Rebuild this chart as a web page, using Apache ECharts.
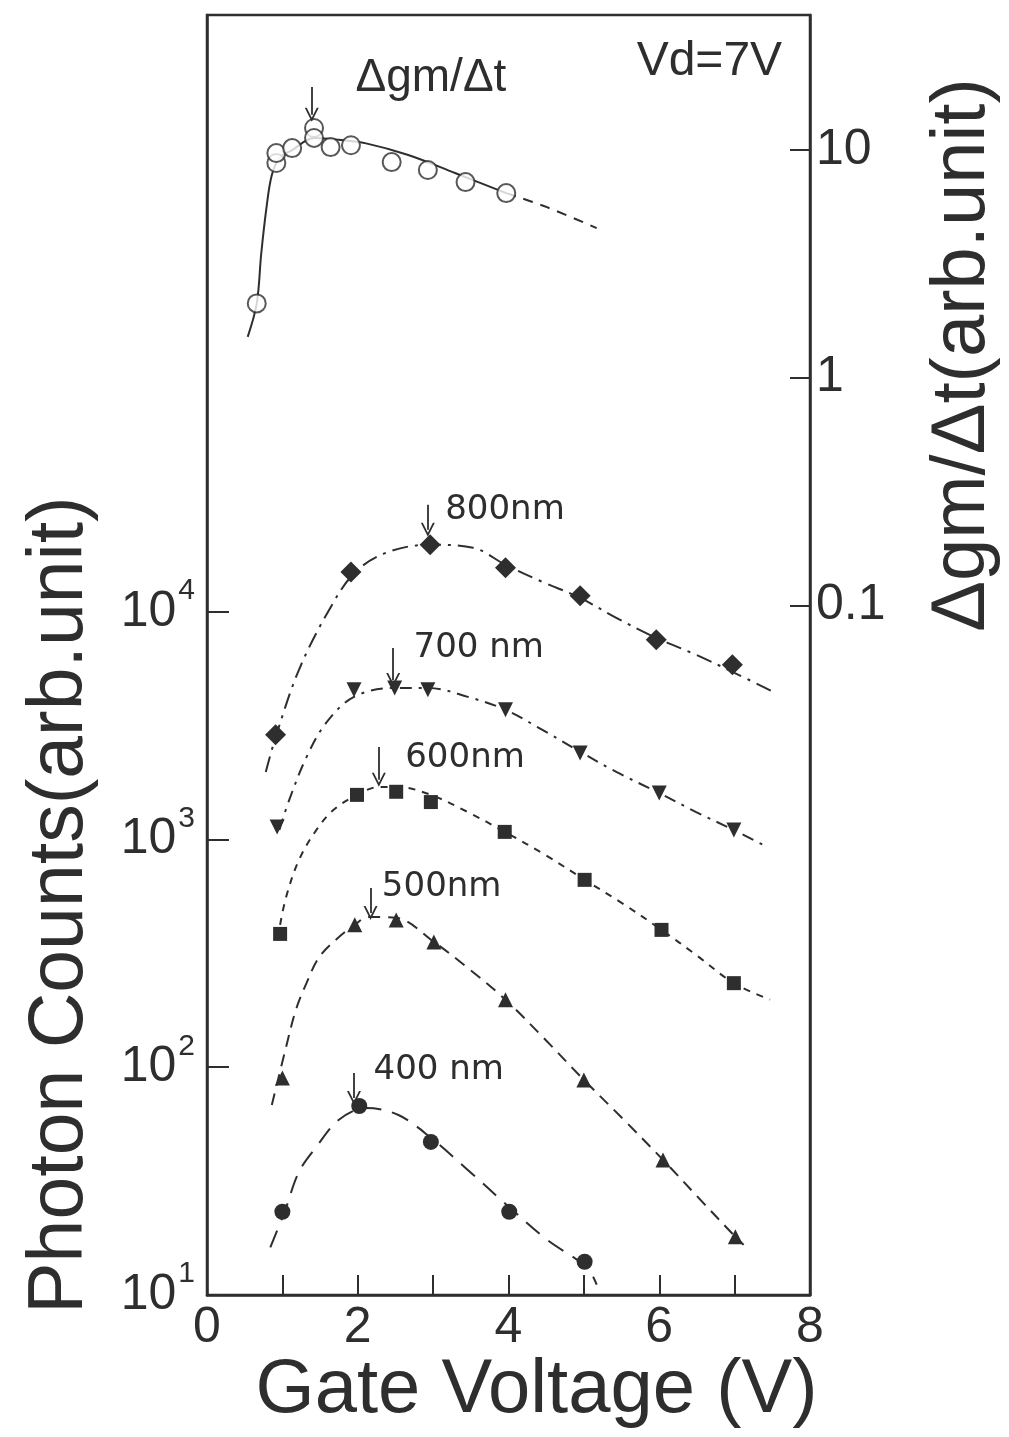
<!DOCTYPE html>
<html><head><meta charset="utf-8">
<script src="https://cdn.jsdelivr.net/npm/echarts@6/dist/echarts.min.js"></script>
<style>html,body{margin:0;padding:0;background:#fff}#c{width:1009px;height:1437px}</style>
</head><body><div id="c"></div>
<script>
// ---- axis ticks ----
const xTickLabels = [0, 2, 4, 6, 8];
const leftTickValues = [10, 100, 1000, 10000];
const rightTickValues = [0.1, 1, 10];

// ---- Δgm/Δt (right axis) ----
const gmX = [0.66, 0.92, 0.92, 1.13, 1.42, 1.42, 1.64, 1.91, 2.45, 2.93, 3.43, 3.97];
const gmY = [2.12, 8.77, 9.70, 10.2, 12.5, 11.3, 10.3, 10.5, 8.85, 8.17, 7.23, 6.47];
const gmFitX = [0.54, 0.66, 0.72, 0.79, 0.86, 0.96, 1.13, 1.42, 1.75, 2.11, 2.67, 3.29, 3.97];
const gmFitY = [1.51, 2.12, 3.52, 5.61, 7.76, 9.22, 10.0, 11.3, 11.1, 10.7, 9.51, 7.93, 6.47];
const gmExtX = [3.97, 4.51, 5.17];
const gmExtY = [6.47, 5.61, 4.54];

// ---- Photon counts (left axis) ----
const x800 = [0.91, 1.91, 2.96, 3.96, 4.95, 5.96, 6.97];
const y800 = [2880, 14960, 19680, 15600, 11750, 7540, 5850];
const fit800X = [0.78, 0.92, 1.22, 1.62, 1.97, 2.41, 2.96, 3.53, 3.96, 4.45, 4.95, 5.43, 5.96, 6.49, 6.97, 7.54];
const fit800Y = [1980, 2880, 5560, 10190, 14960, 18330, 19680, 19100, 16070, 13520, 11510, 9400, 7680, 6470, 5450, 4400];

const x700 = [0.93, 1.95, 2.49, 2.93, 3.96, 4.95, 6.0, 6.99];
const y700 = [1135, 4540, 4630, 4540, 3710, 2400, 1600, 1100];
const fit700X = [0.96, 1.09, 1.32, 1.58, 1.95, 2.49, 2.93, 3.46, 3.96, 4.45, 4.95, 5.43, 6.0, 6.49, 6.99, 7.38];
const fit700Y = [1100, 1490, 2300, 3250, 4230, 4630, 4630, 4230, 3710, 3030, 2430, 1980, 1600, 1320, 1100, 946];

const x600 = [0.97, 1.99, 2.51, 2.97, 3.95, 5.01, 6.03, 6.99];
const y600 = [385, 1570, 1620, 1460, 1080, 665, 401, 234];
const fit600X = [0.97, 1.05, 1.22, 1.45, 1.68, 1.99, 2.28, 2.54, 2.97, 3.46, 3.95, 4.49, 5.01, 5.5, 6.03, 6.49, 6.99, 7.47];
const fit600Y = [422, 560, 813, 1100, 1350, 1570, 1700, 1700, 1570, 1320, 1080, 855, 665, 527, 401, 311, 234, 198];

const x500 = [1.0, 1.96, 2.51, 3.01, 3.96, 5.0, 6.05, 7.01];
const y500 = [89.8, 422, 443, 355, 198, 88, 39.2, 18.0];
const fit500X = [0.86, 1.05, 1.18, 1.32, 1.49, 1.75, 1.96, 2.14, 2.51, 3.01, 3.46, 3.96, 4.49, 5.0, 5.53, 6.05, 6.55, 7.01, 7.12];
const fit500Y = [68.2, 123, 179, 234, 305, 373, 422, 457, 453, 355, 273, 198, 132, 88, 58.8, 39.2, 26.1, 18.0, 16.6];

const x400 = [1.0, 2.02, 2.97, 4.01, 5.01];
const y400 = [23.2, 67.6, 47.0, 23.2, 14.0];
const fit400X = [0.84, 1.03, 1.22, 1.45, 1.75, 2.11, 2.54, 2.97, 3.46, 4.01, 4.51, 5.04, 5.17];
const fit400Y = [16.2, 23.2, 34.7, 44.7, 58.8, 66.2, 61.7, 49.0, 35.4, 24.3, 17.5, 13.2, 11.1];

// ---- annotations (data coordinates) ----
const waveLabels = ['800nm', '700 nm', '600nm', '500nm', '400 nm'];
const waveLabelX = [3.16, 2.74, 2.63, 2.32, 2.21];
const waveLabelY = [28000, 6930, 2280, 619, 97.3];
const waveArrowX = [2.93, 2.47, 2.28, 2.17, 1.95];
const waveArrowTop = [29500, 6930, 2550, 612, 94.4];
const waveArrowTip = [22900, 5020, 1830, 476, 73.3];

const gmLabel = 'Δgm/Δt';
const gmLabelPos = [1.97, 20.7];
const vdLabel = 'Vd=7V';
const vdLabelPos = [5.70, 24.4];
const gmArrow = [1.39, 18.9, 14.3];

const INK = '#2e2e2e';
const FONT = '"Liberation Sans", Arial, sans-serif';
const zip = (a, b) => a.map((v, i) => [v, b[i]]);
const chevron = 'path://M5,0 L10,10 L8.6,10 L5,2.8 L1.4,10 L0,10 Z';

function textMark(text, pos, size, family) {
  return {
    coord: pos, symbol: 'circle', symbolSize: 0, itemStyle: { color: 'rgba(0,0,0,0)' },
    label: { show: true, formatter: text, position: 'inside', align: 'left', verticalAlign: 'middle',
      color: INK, fontSize: size, fontFamily: family }
  };
}
function arrowLine(x, top, tip) {
  return {
    silent: true, symbol: ['none', chevron], symbolSize: 14, animation: false,
    label: { show: false },
    lineStyle: { color: INK, width: 1.8, type: 'solid' },
    emphasis: { disabled: true },
    data: [[{ coord: [x, top] }, { coord: [x, tip] }]]
  };
}
function fitLine(xs, ys, dash, extra) {
  return Object.assign({
    type: 'line', data: zip(xs, ys), showSymbol: false, smooth: 0.35, yAxisIndex: 0,
    lineStyle: { color: INK, width: 2, type: dash }, z: 2, silent: true
  }, extra || {});
}
function points(xs, ys, symbol, size, extra) {
  return Object.assign({
    type: 'scatter', data: zip(xs, ys), symbol: symbol, symbolSize: size, yAxisIndex: 0,
    itemStyle: { color: INK, opacity: 1 }, z: 3, silent: true
  }, extra || {});
}

const series = [];
// Δgm/Δt
series.push(fitLine(gmFitX, gmFitY, 'solid', {
  yAxisIndex: 1,
  markPoint: { silent: true, data: [textMark(gmLabel, gmLabelPos, 46, FONT), textMark(vdLabel, vdLabelPos, 48, FONT)] },
  markLine: arrowLine(gmArrow[0], gmArrow[1], gmArrow[2])
}));
series.push(fitLine(gmExtX, gmExtY, [10, 8], { yAxisIndex: 1 }));
series.push(points(gmX, gmY, 'circle', 18, { yAxisIndex: 1, itemStyle: { color: '#fff', borderColor: INK, borderWidth: 2 } }));

const fits = [
  [fit800X, fit800Y, [16, 7, 3, 7]],
  [fit700X, fit700Y, [12, 7, 3, 7]],
  [fit600X, fit600Y, [7, 7]],
  [fit500X, fit500Y, [12, 8]],
  [fit400X, fit400Y, [18, 11]]
];
fits.forEach((f, i) => {
  series.push(fitLine(f[0], f[1], f[2], {
    markPoint: { silent: true, data: [textMark(waveLabels[i], [waveLabelX[i], waveLabelY[i]], 34, '"DejaVu Sans", sans-serif')] },
    markLine: arrowLine(waveArrowX[i], waveArrowTop[i], waveArrowTip[i])
  }));
});
series.push(points(x800, y800, 'diamond', 21));
series.push(points(x700, y700, 'triangle', 15, { symbolRotate: 180 }));
series.push(points(x600, y600, 'rect', 14));
series.push(points(x500, y500, 'triangle', 15));
series.push(points(x400, y400, 'circle', 16));

const chart = echarts.init(document.getElementById('c'), null, { renderer: 'canvas' });
chart.setOption({
  animation: false,
  backgroundColor: '#ffffff',
  grid: { left: 207, right: 194, top: 15, bottom: 142, show: true, borderColor: INK, borderWidth: 2.5, backgroundColor: 'transparent' },
  xAxis: {
    type: 'value', min: 0, max: 8, interval: 1,
    name: 'Gate Voltage (V)', nameLocation: 'middle', nameGap: 58, nameMoveOverlap: false,
    nameTextStyle: { fontSize: 76, color: INK, fontFamily: FONT, padding: [0, 0, 0, 56] },
    axisLine: { show: true, lineStyle: { color: INK, width: 2.5 } },
    axisTick: { show: true, inside: true, length: 20, lineStyle: { color: INK, width: 2 } },
    axisLabel: { color: INK, fontSize: 50, fontFamily: FONT, margin: 8,
      formatter: v => (xTickLabels.indexOf(v) >= 0 ? String(v) : '') },
    splitLine: { show: false }
  },
  yAxis: [
    {
      type: 'log', logBase: 10, min: 10, max: 4.17e6, position: 'left',
      name: 'Photon Counts(arb.unit)', nameLocation: 'middle', nameRotate: 90, nameGap: 108, nameMoveOverlap: false,
      nameTextStyle: { fontSize: 77, color: INK, fontFamily: FONT, padding: [0, 500, 0, 0] },
      axisLine: { show: true, lineStyle: { color: INK, width: 2.5 } },
      axisTick: { show: true, inside: true, length: 22, customValues: leftTickValues, lineStyle: { color: INK, width: 2 } },
      axisLabel: { customValues: leftTickValues, margin: 12, color: INK, fontFamily: FONT,
        formatter: v => '{b|10}{s|' + Math.round(Math.log10(v)) + '}',
        rich: { b: { fontSize: 50, fontFamily: FONT, color: INK }, s: { fontSize: 30, fontFamily: FONT, color: INK, padding: [0, 0, 42, 2] } } },
      splitLine: { show: false }
    },
    {
      type: 'log', logBase: 10, min: 9.33e-5, max: 39.2, position: 'right',
      name: 'Δgm/Δt(arb.unit)', nameLocation: 'middle', nameRotate: 90, nameGap: 115, nameMoveOverlap: false,
      nameTextStyle: { fontSize: 76, color: INK, fontFamily: FONT, padding: [0, 0, 0, 600] },
      axisLine: { show: true, lineStyle: { color: INK, width: 2.5 } },
      axisTick: { show: true, inside: true, length: 20, customValues: rightTickValues, lineStyle: { color: INK, width: 2 } },
      axisLabel: { customValues: rightTickValues, margin: 6, color: INK, fontSize: 50, fontFamily: FONT,
        formatter: v => (v >= 1 ? String(Math.round(v)) : String(v)) },
      splitLine: { show: false }
    }
  ],
  series: series
});
</script>
</body></html>
